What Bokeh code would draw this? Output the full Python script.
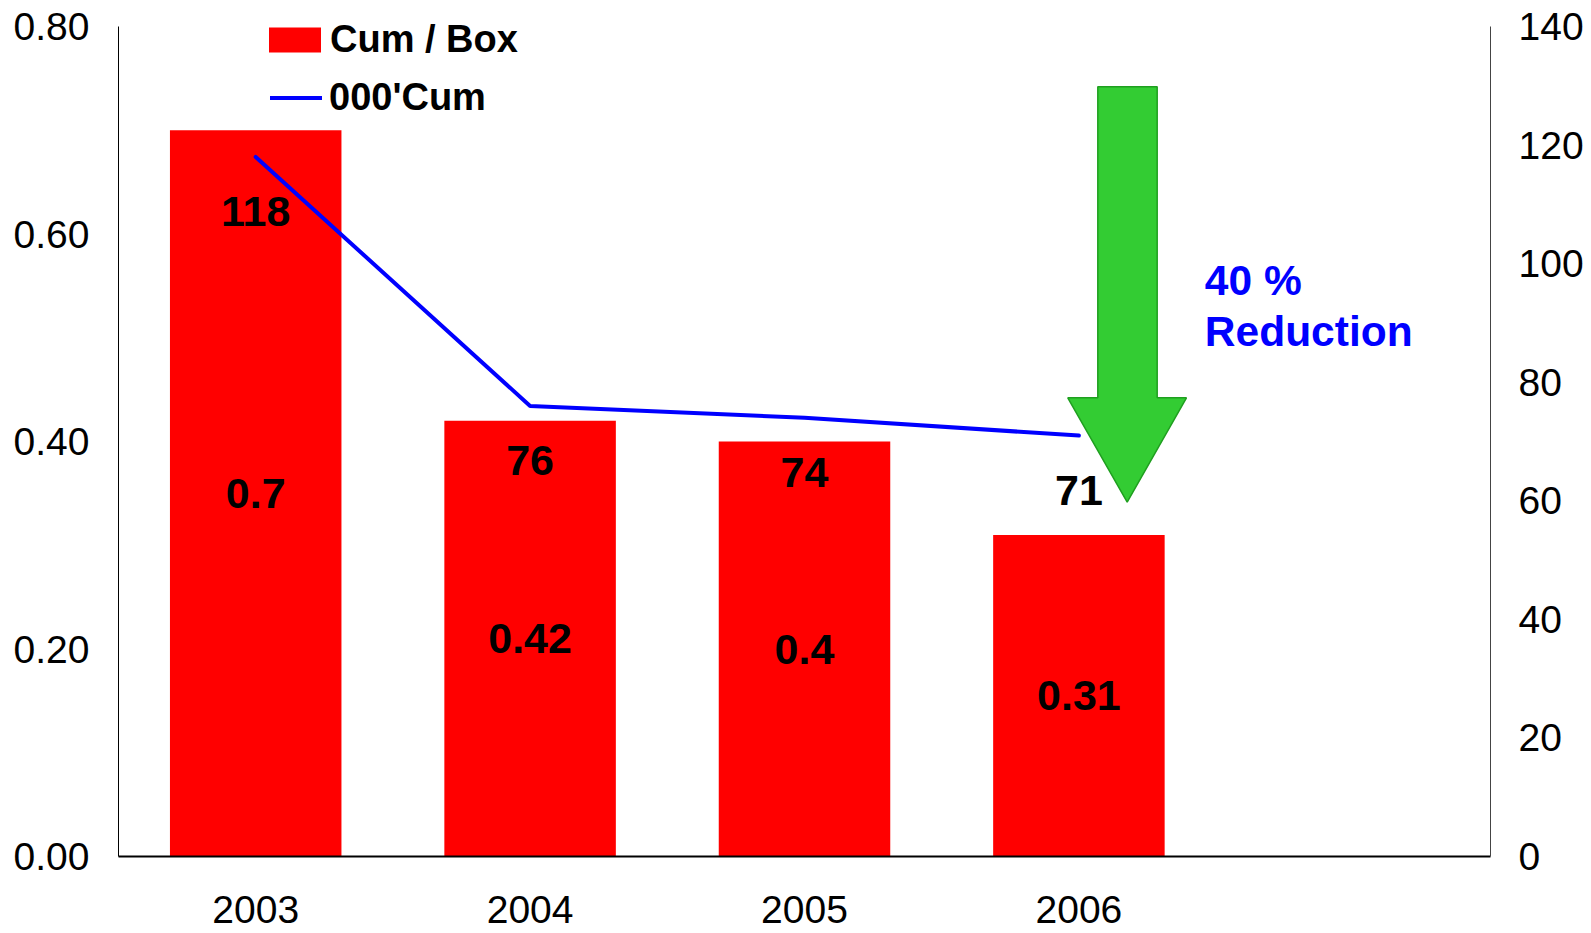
from bokeh.plotting import figure
from bokeh.models import (FactorRange, Range1d, LinearAxis, Legend, LegendItem,
                          FixedTicker, NumeralTickFormatter)
from bokeh.core.properties import value
from bokeh.embed import file_html
from bokeh.resources import INLINE

# ---- data ----
years = ["2003", "2004", "2005", "2006"]
cum_per_box = [0.7, 0.42, 0.4, 0.31]
cum_per_box_labels = ["0.7", "0.42", "0.4", "0.31"]
cum_thousands = [118, 76, 74, 71]
cum_thousands_labels = ["118", "76", "74", "71"]
left_ticks = [0.0, 0.2, 0.4, 0.6, 0.8]
right_ticks = [0, 20, 40, 60, 80, 100, 120, 140]
annotation_lines = ["40 %", "Reduction"]

FONT = "Liberation Sans"
factors = years + [" "]

# plot area: 830 px for the axes' span, plus 20 px of headroom for the legend
AXIS_PX = 830
FRAME_PX = 850
left_max, right_max = 0.8, 140
ext = FRAME_PX / AXIS_PX

p = figure(x_range=FactorRange(factors=factors),
           y_range=Range1d(0, left_max * ext),
           frame_width=1372, frame_height=FRAME_PX,
           min_border_left=118, min_border_right=101,
           min_border_top=6, min_border_bottom=77,
           output_backend="svg", toolbar_location=None,
           background_fill_color="white", border_fill_color="white")
p.outline_line_color = None
p.xgrid.visible = False
p.ygrid.visible = False
p.extra_y_ranges = {"right": Range1d(0, right_max * ext)}

# bars
bars = p.vbar(x=years, top=cum_per_box, width=0.625, fill_color="#FF0000",
              line_color=None)
# line
line = p.line(x=years, y=cum_thousands, y_range_name="right",
              line_color="#0000FF", line_width=4, line_cap="round",
              line_join="round")

# bar value labels (middle of the bar)
p.text(x=years, y=[v / 2 for v in cum_per_box], text=cum_per_box_labels,
       text_font=value(FONT), text_font_style="bold", text_font_size="43px",
       text_color="black", text_align="center", text_baseline="middle")
# line value labels (below the points)
p.text(x=years, y=cum_thousands, y_range_name="right",
       text=cum_thousands_labels, y_offset=55,
       text_font=value(FONT), text_font_style="bold", text_font_size="43px",
       text_color="black", text_align="center", text_baseline="middle")

# green arrow annotation
arrow_x = [3.5689, 3.7853, 3.7853, 3.892, 3.676, 3.4595, 3.5689]
arrow_y = [0.742, 0.742, 0.4421, 0.4421, 0.3415, 0.4421, 0.4421]
p.patch(arrow_x, arrow_y, fill_color="#33CC33", line_color="#1F9F1F",
        line_width=1.5)

p.text(x=[3.959, 3.959], y=[0.5552, 0.506], text=annotation_lines,
       text_font=value(FONT), text_font_style="bold", text_font_size="42.5px",
       text_color="#0000FF", text_align="left", text_baseline="middle")

# axes
xa = p.xaxis[0]
xa.axis_line_color = "black"
xa.axis_line_width = 2
xa.major_tick_line_color = None
xa.minor_tick_line_color = None
xa.major_tick_out = 0
xa.major_tick_in = 0
xa.major_label_standoff = 31
xa.major_label_text_font = FONT
xa.major_label_text_font_size = "39px"
xa.major_label_text_color = "black"

ya = p.yaxis[0]
ya.ticker = FixedTicker(ticks=left_ticks)
ya.bounds = (0, left_max)
ya.formatter = NumeralTickFormatter(format="0.00")
ya.axis_line_color = "black"
ya.axis_line_width = 1
ya.major_tick_line_color = None
ya.minor_tick_line_color = None
ya.major_tick_out = 0
ya.major_tick_in = 0
ya.major_label_standoff = 29
ya.major_label_text_font = FONT
ya.major_label_text_font_size = "39px"
ya.major_label_text_color = "black"

ra = LinearAxis(y_range_name="right", ticker=FixedTicker(ticks=right_ticks),
                bounds=(0, right_max))
ra.axis_line_color = "#444444"
ra.axis_line_width = 1
ra.major_tick_line_color = None
ra.minor_tick_line_color = None
ra.major_tick_out = 0
ra.major_tick_in = 0
ra.major_label_standoff = 28
ra.major_label_text_font = FONT
ra.major_label_text_font_size = "39px"
ra.major_label_text_color = "black"
p.add_layout(ra, "right")

common = dict(orientation="vertical", padding=0, margin=0, label_height=44,
              border_line_color=None, background_fill_alpha=0,
              label_text_font=FONT, label_text_font_style="bold",
              label_text_font_size="38px", label_text_color="black")

legend_bar = Legend(items=[LegendItem(label="Cum / Box", renderers=[bars])],
                    location=(144, 795), glyph_width=65, glyph_height=31,
                    label_standoff=3, **common)
legend_line = Legend(items=[LegendItem(label="000'Cum", renderers=[line])],
                     location=(152, 737), glyph_width=52, glyph_height=25,
                     label_standoff=7, **common)
p.add_layout(legend_bar, "center")
p.add_layout(legend_line, "center")

open("out.html", "w").write(file_html(p, INLINE))
